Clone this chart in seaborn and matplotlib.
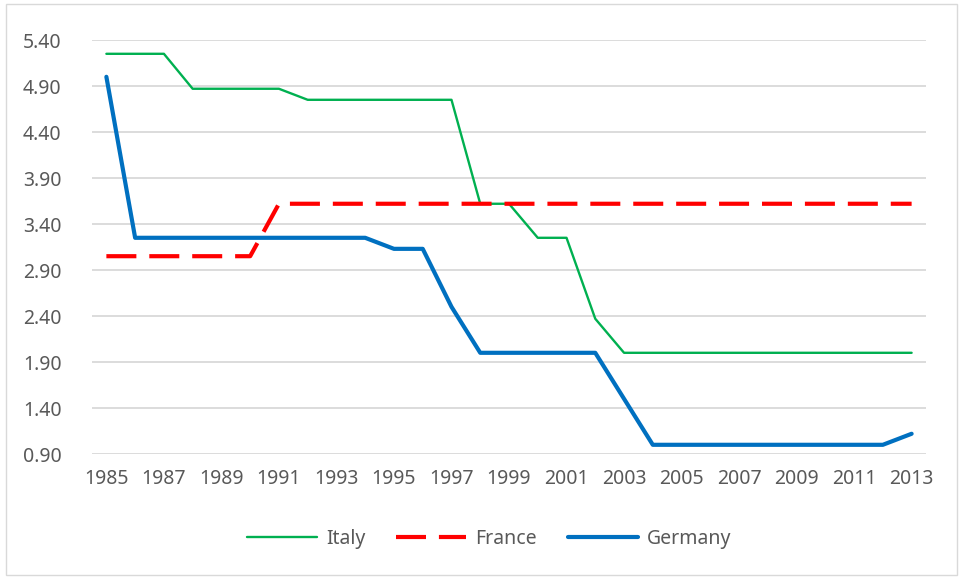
import pandas as pd
import matplotlib.pyplot as plt
import seaborn as sns
from matplotlib.patches import Rectangle

years = list(range(1985, 2014))
italy = [5.25, 5.25, 5.25, 4.87, 4.87, 4.87, 4.87, 4.75, 4.75, 4.75, 4.75, 4.75, 4.75,
         3.62, 3.62, 3.25, 3.25, 2.37, 2.00, 2.00, 2.00, 2.00, 2.00, 2.00, 2.00, 2.00,
         2.00, 2.00, 2.00]
france = [3.05, 3.05, 3.05, 3.05, 3.05, 3.05] + [3.62] * 23
germany = [5.00, 3.25, 3.25, 3.25, 3.25, 3.25, 3.25, 3.25, 3.25, 3.25, 3.13, 3.13, 2.50,
           2.00, 2.00, 2.00, 2.00, 2.00, 1.50, 1.00, 1.00, 1.00, 1.00, 1.00, 1.00, 1.00,
           1.00, 1.00, 1.12]
year_ticks = list(range(1985, 2014, 2))
y_ticks = [0.90, 1.40, 1.90, 2.40, 2.90, 3.40, 3.90, 4.40, 4.90, 5.40]

df = pd.DataFrame({'Year': years, 'Italy': italy, 'France': france, 'Germany': germany})

sns.set_theme(style="white")
plt.rcParams['font.family'] = ['Noto Sans', 'DejaVu Sans']
txt = '#595959'

fig = plt.figure(figsize=(9.63, 5.78), dpi=100)
ax = fig.add_axes([92 / 963, 1 - 454 / 578, (926 - 92) / 963, (454 - 40) / 578])

sns.lineplot(data=df, x='Year', y='Italy', ax=ax, color='#00B050', linewidth=1.7, label='Italy')
sns.lineplot(data=df, x='Year', y='France', ax=ax, color='#FF0000', linewidth=3,
             linestyle=(0, (7.2, 3.1)), label='France')
sns.lineplot(data=df, x='Year', y='Germany', ax=ax, color='#0070C0', linewidth=3, label='Germany')

ax.set_xlim(1984.5, 2013.5)
ax.set_ylim(0.90, 5.40)
ax.set_yticks(y_ticks)
ax.set_yticklabels([f'{v:.2f}' for v in y_ticks])
ax.set_xticks(year_ticks)
ax.set_xticklabels([str(y) for y in year_ticks])
ax.yaxis.grid(True, color='#D9D9D9', linewidth=1.3)
ax.set_axisbelow(True)
for s in ax.spines.values():
    s.set_visible(False)
ax.tick_params(axis='both', length=0, labelsize=14, labelcolor=txt)
ax.tick_params(axis='y', pad=22)
ax.tick_params(axis='x', pad=11)
ax.set_xlabel('')
ax.set_ylabel('')

ax.legend(loc='center', bbox_to_anchor=(489 / 963, 1 - 539 / 578), bbox_transform=fig.transFigure,
          ncol=3, frameon=False, fontsize=14, labelcolor=txt, handlelength=3.6,
          columnspacing=1.6, handletextpad=0.45)

fig.patches.append(Rectangle((6 / 963, 3 / 578), 951 / 963, 571 / 578, transform=fig.transFigure,
                             fill=False, edgecolor='#D9D9D9', linewidth=1))

plt.savefig('out.png', dpi=100)
